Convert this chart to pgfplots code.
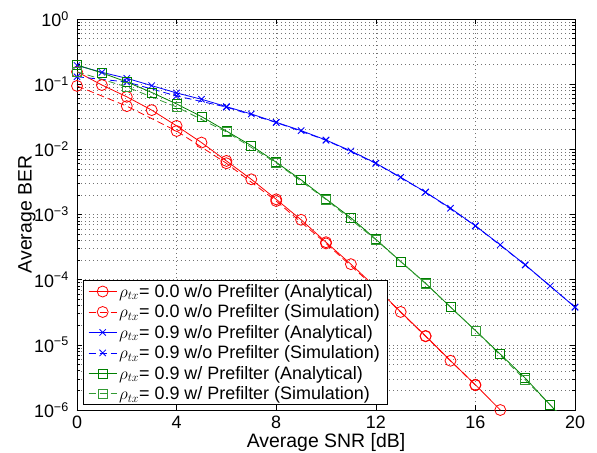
\documentclass[border=0pt]{standalone}
\usepackage{fontspec}
\setmainfont{Liberation Sans}
\usepackage{pgfplots}
\pgfplotsset{compat=1.18}
\definecolor{mred}{RGB}{255,0,0}
\definecolor{mblue}{RGB}{0,0,255}
\definecolor{mgreen}{RGB}{0,128,0}

\begin{document}
\begin{tikzpicture}
\begin{semilogyaxis}[
  scale only axis, width=498bp, height=391bp,
  xmin=0, xmax=20, ymin=1e-6, ymax=1,
  font=\fontsize{18}{21}\selectfont,
  xtick={0,4,8,12,16,20},
  ytick={1e-6,1e-5,1e-4,1e-3,1e-2,1e-1,1},
  yticklabels={10\textsuperscript{−6},10\textsuperscript{−5},10\textsuperscript{−4},10\textsuperscript{−3},10\textsuperscript{−2},10\textsuperscript{−1},10\textsuperscript{0}},
  /pgf/number format/assume math mode=true,
  xticklabel style={inner sep=0pt, yshift=-6bp},
  yticklabel style={inner sep=0pt, xshift=-8bp},
  tick align=inside,
  major tick length=5bp, minor tick length=3bp,
  axis line style={line width=0.8bp},
  every tick/.style={black, line width=0.6bp},
  xmajorgrids, ymajorgrids, yminorgrids,
  major grid style={black!55, line width=0.5bp, dash pattern=on 1bp off 3bp},
  minor grid style={black!55, line width=0.5bp, dash pattern=on 1bp off 3bp},
  xlabel={Average SNR [dB]},
  ylabel={Average BER},
  label style={font=\fontsize{19.5}{22}\selectfont},
  xlabel style={at={(axis description cs:0.5,-0.060)}, anchor=north, inner sep=0pt},
  ylabel style={at={(axis description cs:-0.1004,0.5)}, anchor=center, inner sep=0pt},
  every axis plot/.append style={line width=0.8bp},
  legend style={at={(axis description cs:0.012,0.013)}, anchor=south west,
    draw=black, line width=0.6bp, fill=white, inner ysep=1.5bp, inner xsep=5bp, row sep=2bp,
    font=\fontsize{18}{21}\selectfont},
  legend cell align=left,
  legend image code/.code={\draw[mark repeat=2,mark phase=2] plot coordinates {(0bp,0bp) (14bp,0bp) (28bp,0bp)};},
]
% rho_tx = 0.0 w/o prefilter, analytical
\addplot[mred, mark=o, mark size=5.5bp, mark options={solid}] coordinates {
(0,0.155) (1,0.097) (2,0.064) (3,0.040) (4,0.0229) (5,0.0127) (6,0.00664)
(7,0.00347) (8,0.00171) (9,8.3e-4) (10,3.76e-4) (11,1.73e-4) (12,7.6e-5)
(13,3.2e-5) (14,1.37e-5) (15,5.7e-6) (16,2.44e-6) (17,1.0e-6)
};
% rho_tx = 0.0 w/o prefilter, simulation
\addplot[mred, dash pattern=on 7bp off 4bp, mark=o, mark size=5.5bp, mark options={solid}] coordinates {
(0,0.094) (2,0.046) (4,0.0191) (6,0.00612) (8,0.00161) (10,3.6e-4)
(12,7.4e-5) (14,1.35e-5) (16,2.4e-6)
};
% rho_tx = 0.9 w/o prefilter, analytical
\addplot[mblue, mark=x, mark size=4.5bp, mark options={solid}] coordinates {
(0,0.194) (1,0.152) (2,0.123) (3,0.095) (4,0.0733) (5,0.0587) (6,0.0452)
(7,0.0349) (8,0.026) (9,0.0194) (10,0.0139) (11,0.00945) (12,0.00612)
(13,0.00373) (14,0.0022) (15,0.00125) (16,6.7e-4) (17,3.42e-4) (18,1.69e-4)
(19,8.0e-5) (20,3.78e-5)
};
% rho_tx = 0.9 w/o prefilter, simulation
\addplot[mblue, dash pattern=on 7bp off 4bp, mark=x, mark size=4.5bp, mark options={solid}] coordinates {
(0,0.130) (2,0.108) (4,0.066) (6,0.0445) (8,0.0258) (10,0.0138) (12,0.0061)
(14,0.0022) (16,6.7e-4) (18,1.68e-4) (20,3.8e-5)
};
% rho_tx = 0.9 w/ prefilter, analytical
\addplot[mgreen, mark=square, mark size=4.5bp, mark options={solid}] coordinates {
(0,0.197) (1,0.149) (2,0.108) (3,0.0746) (4,0.0497) (5,0.0318) (6,0.0191)
(7,0.0114) (8,0.00634) (9,0.0034) (10,0.00173) (11,8.9e-4) (12,4.18e-4)
(13,1.9e-4) (14,8.8e-5) (15,3.8e-5) (16,1.66e-5) (17,7.2e-6) (18,3.09e-6)
(19,1.2e-6) (20,4.6e-7)
};
% rho_tx = 0.9 w/ prefilter, simulation
\addplot[mgreen!80!white, dash pattern=on 7bp off 4bp, mark=square, mark size=4.5bp, mark options={solid}] coordinates {
(0,0.155) (2,0.0906) (4,0.0447) (6,0.0185) (8,0.0062) (10,0.0017) (12,4.1e-4)
(14,8.7e-5) (16,1.65e-5) (18,2.9e-6) (20,5.0e-7)
};
\legend{$\rho_{tx}$= 0.0 w/o Prefilter (Analytical),
        $\rho_{tx}$= 0.0 w/o Prefilter (Simulation),
        $\rho_{tx}$= 0.9 w/o Prefilter (Analytical),
        $\rho_{tx}$= 0.9 w/o Prefilter (Simulation),
        $\rho_{tx}$= 0.9 w/ Prefilter (Analytical),
        $\rho_{tx}$= 0.9 w/ Prefilter (Simulation)}
\end{semilogyaxis}
\path ([shift={(-77bp,-43bp)}]current axis.south west) rectangle ([shift={(22bp,19bp)}]current axis.north east);
\end{tikzpicture}
\end{document}
